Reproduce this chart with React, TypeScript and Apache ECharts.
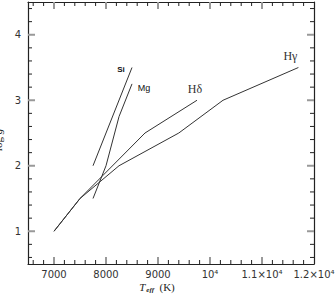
import React, { useEffect, useRef } from 'react';
import * as echarts from 'echarts';

// ---- data ----
const hGammaT = [7000, 7500, 8250, 9400, 10250, 11700];
const hGammaLogg = [1.0, 1.5, 2.0, 2.5, 3.0, 3.5];
const hDeltaT = [7000, 7500, 8750, 9750];
const hDeltaLogg = [1.0, 1.5, 2.5, 3.0];
const siT = [7750, 8500];
const siLogg = [2.0, 3.5];
const mgT = [7750, 8000, 8250, 8500];
const mgLogg = [1.5, 2.0, 2.75, 3.25];

const xMajorTicks = [7000, 8000, 9000, 10000, 11000, 12000];
const xTickLabels = ['7000', '8000', '9000', '10⁴', '1.1×10⁴', '1.2×10⁴'];
const yMajorTicks = [1, 2, 3, 4];

const X_MIN = 6500;
const X_MAX = 12000;
const Y_MIN = 0.5;
const Y_MAX = 4.5;

const xMinorTicks: number[] = [];
for (let v = 6600; v < 12000; v += 200) if (v % 1000 !== 0) xMinorTicks.push(v);
const yMinorTicks: number[] = [];
for (let k = 6; k < 45; k += 2) if (k % 10 !== 0) yMinorTicks.push(k / 10);

const AXIS_COLOR = '#222';
const MAJOR_TICK_COLOR = '#999';
const MINOR_TICK_COLOR = '#222';

type Side = 'bottom' | 'top' | 'left' | 'right';
const tickSeries = (side: Side, values: number[], len: number, color: string, width: number) => {
  const horizontal = side === 'bottom' || side === 'top';
  return {
    type: 'custom',
    clip: false,
    silent: true,
    data: values.map((v) =>
      horizontal ? [v, side === 'bottom' ? Y_MIN : Y_MAX] : [side === 'left' ? X_MIN : X_MAX, v]
    ),
    encode: { x: 0, y: 1 },
    renderItem: (_p: any, api: any) => {
      const p = api.coord([api.value(0), api.value(1)]);
      let x2 = p[0];
      let y2 = p[1];
      if (side === 'bottom') y2 -= len;
      if (side === 'top') y2 += len;
      if (side === 'left') x2 += len;
      if (side === 'right') x2 -= len;
      return {
        type: 'line',
        shape: { x1: p[0], y1: p[1], x2, y2 },
        style: { stroke: color, lineWidth: width },
      };
    },
  };
};

// x tick labels (with the 10⁴ notation) placed through the x scale
const xLabelSeries = {
  type: 'custom',
  clip: false,
  silent: true,
  data: xMajorTicks.map((v) => [v, Y_MIN]),
  encode: { x: 0, y: 1 },
  renderItem: (params: any, api: any) => {
    const p = api.coord([api.value(0), api.value(1)]);
    return {
      type: 'text',
      x: p[0],
      y: p[1] + 5,
      style: {
        text: xTickLabels[params.dataIndex],
        fontFamily: 'DejaVu Sans',
        fontSize: 10,
        fill: '#333',
        align: 'center',
        verticalAlign: 'top',
        textAlign: 'center',
        textVerticalAlign: 'top',
      },
    };
  },
};

const lineSeries = (
  name: string,
  t: number[],
  g: number[],
  offset: number[],
  label: any
) => ({
  name,
  type: 'line',
  data: t.map((v, i) => [v, g[i]]),
  symbol: 'none',
  silent: true,
  lineStyle: { color: '#333', width: 1 },
  markPoint: {
    symbol: 'circle',
    symbolSize: 1,
    silent: true,
    itemStyle: { color: 'rgba(0,0,0,0)' },
    label: {
      show: true,
      position: 'inside',
      offset,
      formatter: name,
      ...label,
    },
    data: [{ coord: [t[t.length - 1], g[g.length - 1]] }],
  },
});

const serif = { fontFamily: 'Liberation Serif', fontSize: 12, color: '#333' };

export default function App() {
  const ref = useRef<HTMLDivElement>(null);
  useEffect(() => {
    if (!ref.current) return;
    const chart = echarts.init(ref.current, null, { renderer: 'svg' });
    const ticks: any[] = [];
    (['bottom', 'top'] as Side[]).forEach((s) => {
      ticks.push(tickSeries(s, xMinorTicks, 4, MINOR_TICK_COLOR, 1));
      ticks.push(tickSeries(s, xMajorTicks.filter((v) => v < X_MAX), 7, MAJOR_TICK_COLOR, 2));
    });
    (['left', 'right'] as Side[]).forEach((s) => {
      ticks.push(tickSeries(s, yMinorTicks, 4, MINOR_TICK_COLOR, 1));
      ticks.push(tickSeries(s, yMajorTicks, 7, MAJOR_TICK_COLOR, 2));
    });
    chart.setOption({
      animation: false,
      grid: { left: 28, right: 21, top: 2, bottom: 31, outerBoundsMode: 'none' },
      xAxis: [
        {
          type: 'value',
          position: 'bottom',
          min: X_MIN,
          max: X_MAX,
          name: '{i|T}{s|eff}  (K)',
          nameLocation: 'middle',
          nameGap: 17,
          nameTextStyle: {
            fontFamily: 'Liberation Serif',
            fontSize: 11,
            color: '#222',
            padding: [0, 28, 0, 0],
            rich: {
              i: { fontStyle: 'italic', fontFamily: 'Liberation Serif', fontSize: 11, color: '#222' },
              s: {
                fontStyle: 'italic',
                fontWeight: 'bold',
                fontFamily: 'Liberation Serif',
                fontSize: 7,
                color: '#222',
                padding: [5, 0, 0, 1],
              },
            },
          },
          axisLine: { show: true, onZero: false, lineStyle: { color: AXIS_COLOR, width: 1.2 } },
          axisTick: { show: false },
          axisLabel: { show: false },
          splitLine: { show: false },
        },
        {
          type: 'value',
          position: 'top',
          min: X_MIN,
          max: X_MAX,
          axisLine: { show: true, onZero: false, lineStyle: { color: AXIS_COLOR, width: 1.2 } },
          axisTick: { show: false },
          axisLabel: { show: false },
          splitLine: { show: false },
        },
      ],
      yAxis: [
        {
          type: 'value',
          position: 'left',
          min: Y_MIN,
          max: Y_MAX,
          name: 'log {i|g}',
          nameLocation: 'middle',
          nameRotate: 90,
          nameGap: 14,
          nameTextStyle: {
            fontFamily: 'Liberation Serif',
            fontSize: 11,
            color: '#222',
            padding: [0, 14, 0, 0],
            rich: { i: { fontStyle: 'italic', fontFamily: 'Liberation Serif', fontSize: 11, color: '#222' } },
          },
          axisLine: { show: true, onZero: false, lineStyle: { color: AXIS_COLOR, width: 1.2 } },
          axisTick: { show: false },
          axisLabel: {
            customValues: yMajorTicks,
            margin: 7,
            fontFamily: 'DejaVu Sans',
            fontSize: 10,
            color: '#333',
          },
          splitLine: { show: false },
        },
        {
          type: 'value',
          position: 'right',
          min: Y_MIN,
          max: Y_MAX,
          axisLine: { show: true, onZero: false, lineStyle: { color: AXIS_COLOR, width: 1.2 } },
          axisTick: { show: false },
          axisLabel: { show: false },
          splitLine: { show: false },
        },
      ],
      series: [
        lineSeries('Hγ', hGammaT, hGammaLogg, [-8, -12], serif),
        lineSeries('Hδ', hDeltaT, hDeltaLogg, [-2, -11], serif),
        lineSeries('Si', siT, siLogg, [-11, 2], {
          fontFamily: 'Liberation Sans',
          fontWeight: 'bold',
          fontSize: 8,
          color: '#111',
        }),
        lineSeries('Mg', mgT, mgLogg, [12, 4], {
          fontFamily: 'Liberation Sans',
          fontSize: 9,
          color: '#111',
        }),
        ...ticks,
        xLabelSeries,
      ],
    });
    return () => chart.dispose();
  }, []);
  return (
    <div
      ref={ref}
      style={{ position: 'fixed', left: 0, top: 0, width: 335, height: 295, background: '#fff' }}
    />
  );
}
